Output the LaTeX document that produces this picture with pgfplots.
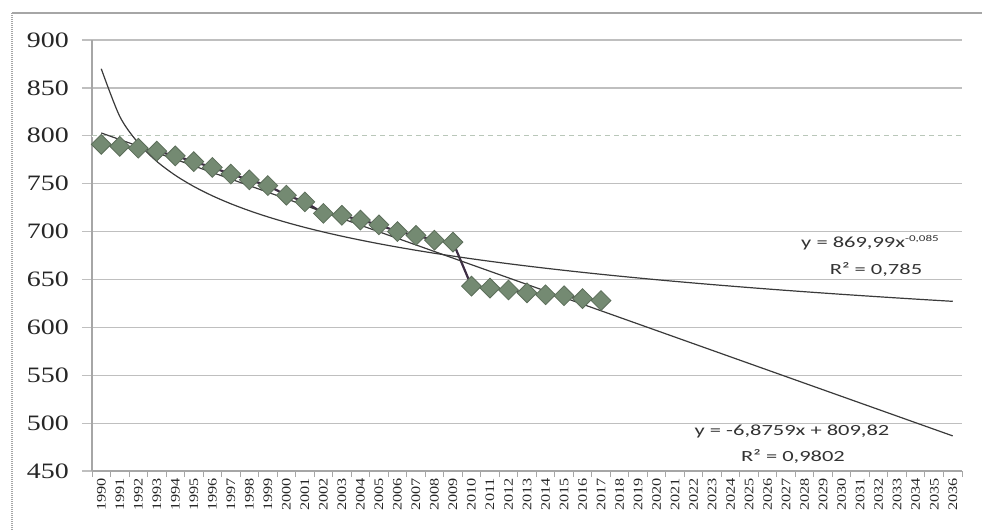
\documentclass[border=0pt]{standalone}
\usepackage{pgfplots}
\pgfplotsset{compat=1.18}
\usepackage{fontspec}
\setmainfont{Liberation Serif}
\newfontfamily\eqfont{Carlito}

\definecolor{gridgray}{HTML}{BFBFBF}
\definecolor{axisgray}{HTML}{A6A6A6}
\definecolor{dashgreen}{HTML}{B9C7B9}
\definecolor{serieline}{HTML}{3E2E44}
\definecolor{markfill}{HTML}{748A72}
\definecolor{markdraw}{HTML}{5C6E5A}
\definecolor{trend}{HTML}{3A3A3A}
% wide year label
\newcommand\yl[1]{\scalebox{1.25}[1]{#1}}
\newcommand\eq[1]{\scalebox{1.45}[1]{#1}}

\begin{document}
\begin{tikzpicture}
\useasboundingbox (0,0) rectangle (982pt,-531pt);
% outer chart frame
\draw[axisgray, line width=1.5pt] (982pt,-13pt) -- (12pt,-13pt);
\draw[axisgray, line width=2.5pt, dash pattern=on 1pt off 1pt] (12pt,-13pt) -- (12pt,-531pt);
\begin{axis}[
  at={(92pt,-471pt)}, anchor=south west,
  scale only axis, width=870pt, height=431pt,
  xmin=0.5, xmax=47.5, ymin=450, ymax=900,
  axis x line*=bottom, axis y line*=left,
  axis line style={-, axisgray, line width=1.3pt},
  ytick={450,500,...,900},
  xtick={1,...,47},
  xticklabels={\yl{1990},\yl{1991},\yl{1992},\yl{1993},\yl{1994},\yl{1995},\yl{1996},\yl{1997},\yl{1998},\yl{1999},\yl{2000},\yl{2001},\yl{2002},\yl{2003},\yl{2004},\yl{2005},\yl{2006},\yl{2007},\yl{2008},\yl{2009},\yl{2010},\yl{2011},\yl{2012},\yl{2013},\yl{2014},\yl{2015},\yl{2016},\yl{2017},\yl{2018},\yl{2019},\yl{2020},\yl{2021},\yl{2022},\yl{2023},\yl{2024},\yl{2025},\yl{2026},\yl{2027},\yl{2028},\yl{2029},\yl{2030},\yl{2031},\yl{2032},\yl{2033},\yl{2034},\yl{2035},\yl{2036}},
  minor xtick={0.5,1.5,...,47.5},
  tick align=outside,
  major tick length=10pt, minor tick length=6pt,
  major x tick style={draw=none},
  minor x tick style={axisgray, line width=1pt},
  ytick style={gridgray, line width=1.2pt},
  ymajorgrids, major grid style={gridgray, line width=1.2pt},
  yticklabel={\scalebox{1.27}[1]{\pgfmathprintnumber[assume math mode=true]{\tick}}},
  yticklabel style={font=\fontsize{22}{22}\selectfont, anchor=east, inner sep=0pt, text=black!85},
  yticklabel shift=13pt,
  xticklabel style={font=\fontsize{13}{13}\selectfont, rotate=90, anchor=east, inner sep=0pt, text=black!85},
  xticklabel shift=-3pt,
  clip=false,
]
% dashed gridline at 800
\draw[white, line width=1.6pt] (axis cs:0.5,800) -- (axis cs:47.5,800);
\draw[dashgreen, line width=1.2pt, dash pattern=on 5pt off 4pt] (axis cs:0.5,800) -- (axis cs:47.5,800);

% observed series 1990-2017
\addplot[serieline, line width=2.2pt, mark=square*, mark size=7pt,
  mark options={rotate=45, fill=markfill, draw=markdraw, line width=0.8pt}]
  coordinates {
  (1,791) (2,789) (3,787) (4,784) (5,779) (6,773) (7,767) (8,760)
  (9,754) (10,748) (11,738) (12,731) (13,719) (14,717) (15,712) (16,707)
  (17,700) (18,696) (19,691) (20,689) (21,643) (22,641) (23,639) (24,636)
  (25,634) (26,633) (27,630) (28,628)
  };

% power trend y = 869,99 x^-0,085
\addplot[trend, line width=1.2pt, smooth, no markers] coordinates {
  (1,869.99) (2,820.21) (3,792.43) (4,773.28) (5,758.75) (6,747.08) (7,737.36)
  (8,729.04) (9,721.78) (10,715.34) (11,709.57) (12,704.33) (13,699.56)
  (14,695.16) (15,691.10) (16,687.32) (17,683.79) (18,680.47) (19,677.35)
  (20,674.40) (21,671.61) (22,668.96) (23,666.44) (24,664.03) (25,661.73)
  (26,659.53) (27,657.42) (28,655.39) (29,653.44) (30,651.56) (31,649.74)
  (32,647.99) (33,646.30) (34,644.66) (35,643.08) (36,641.54) (37,640.04)
  (38,638.59) (39,637.19) (40,635.82) (41,634.48) (42,633.19) (43,631.93)
  (44,630.69) (45,629.48) (46,628.31) (47,627.16)
  };

% linear trend y = -6,8759 x + 809,82
\addplot[trend, line width=1.2pt, no markers] coordinates {
  (1,802.94) (47,486.65)
  };
\end{axis}

% trend equations
\begin{scope}[every node/.style={inner sep=0pt, font=\eqfont\fontsize{15.5}{15.5}\selectfont, text=black!80}]
\node at (870pt,-243pt) {\eq{y = 869,99x\raisebox{6pt}{\fontsize{9}{9}\selectfont -0,085}}};
\node at (876pt,-270pt) {\eq{R² = 0,785}};
\node at (792pt,-431pt) {\eq{y = -6,8759x + 809,82}};
\node at (793pt,-457pt) {\eq{R² = 0,9802}};
\end{scope}
\end{tikzpicture}
\end{document}
